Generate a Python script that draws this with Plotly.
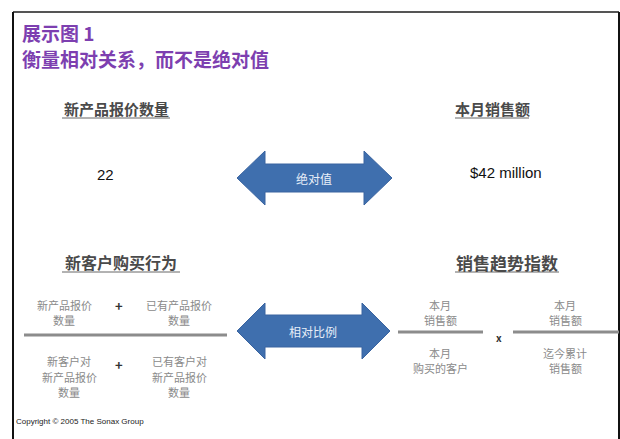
import plotly.graph_objects as go

# ---- content ----
title_lines = ["展示图 1", "衡量相对关系，而不是绝对值"]
headings = ["新产品报价数量", "本月销售额", "新客户购买行为", "销售趋势指数"]
heading_pos = [(116, 108), (492, 108), (121, 262), (507, 262)]
heading_size = [15, 15, 16, 17]
values = ["22", "$42 million"]
value_pos = [(105, 174), (506, 172)]
arrow_labels = ["绝对值", "相对比例"]
left_num = [["新产品报价", "数量"], ["已有产品报价", "数量"]]
left_den = [["新客户对", "新产品报价", "数量"], ["已有客户对", "新产品报价", "数量"]]
right_num = [["本月", "销售额"], ["本月", "销售额"]]
right_den = [["本月", "购买的客户"], ["迄今累计", "销售额"]]
copyright_text = "Copyright © 2005 The Sonax Group"

W, H = 620, 439
CJK = "Noto Sans CJK SC"
SMALL = "#8a8a8a"
BLUE = "#3f6fae"
LINE_STEP = 15.5

fig = go.Figure()
fig.add_trace(go.Scatter(x=[0, W], y=[0, H], mode="markers", marker=dict(opacity=0), hoverinfo="skip", showlegend=False))

shapes = []
# frame
shapes.append(dict(type="line", x0=13, x1=619, y0=12, y1=12, line=dict(color="#555", width=2)))
shapes.append(dict(type="line", x0=13, x1=13, y0=12, y1=445, line=dict(color="#111", width=2)))
shapes.append(dict(type="line", x0=619, x1=619, y0=12, y1=445, line=dict(color="#111", width=2)))


def arrow(x0, x1, yc, hh, sh, hl):
    p = [(x0, yc), (x0 + hl, yc - hh), (x0 + hl, yc - sh), (x1 - hl, yc - sh), (x1 - hl, yc - hh),
         (x1, yc), (x1 - hl, yc + hh), (x1 - hl, yc + sh), (x0 + hl, yc + sh), (x0 + hl, yc + hh)]
    return "M" + " L".join(f"{a},{b}" for a, b in p) + " Z"


arrows = [(237, 392, 178, 27, 14, 28), (237, 390, 331, 28, 16, 28)]
for a in arrows:
    shapes.append(dict(type="path", path=arrow(*a), fillcolor=BLUE, line=dict(color="#3a64a0", width=1)))

# fraction lines
for x0, x1, y in [(24, 227, 335), (398, 483, 332), (513, 619, 332)]:
    shapes.append(dict(type="line", x0=x0, x1=x1, y0=y, y1=y, line=dict(color="#8c8c8c", width=3)))

annotations = []


def txt(x, y, s, size, color, anchor="center", bold=False, family=CJK):
    annotations.append(dict(x=x, y=y, text=(f"<b>{s}</b>" if bold else s), showarrow=False,
                            xanchor=anchor, yanchor="middle", align="center",
                            font=dict(family=family, size=size, color=color)))


def block(x, y_first, lines, size=11, color=SMALL):
    for i, s in enumerate(lines):
        txt(x, y_first + i * LINE_STEP, s, size, color)


# title
txt(20, 32.5, title_lines[0], 19, "#7d3fb0", anchor="left", bold=True)
txt(20, 58, title_lines[1], 19, "#7d3fb0", anchor="left", bold=True)

# headings with underline
hw = [108, 74, 118, 104]
for (x, y), s, w, fs in zip(heading_pos, headings, hw, heading_size):
    txt(x, y, s, fs, "#4a4a4a", bold=True)
    shapes.append(dict(type="line", x0=x - w / 2, x1=x + w / 2, y0=y + 10, y1=y + 10, line=dict(color="#666", width=1)))

# values
txt(value_pos[0][0], value_pos[0][1], values[0], 15, "#111", family="Liberation Sans Narrow, Liberation Sans")
txt(value_pos[1][0], value_pos[1][1], values[1], 15, "#111", family="Liberation Sans Narrow, Liberation Sans")

# arrow labels
txt(314, 178, arrow_labels[0], 12, "#e8eef8")
txt(313, 331, arrow_labels[1], 12, "#e8eef8")

# left fraction
block(64, 304.5, left_num[0])
block(179, 304.5, left_num[1])
txt(119, 305, "+", 13, "#333", bold=True)
block(69, 361, left_den[0])
block(179, 361, left_den[1])
txt(119, 364, "+", 13, "#333", bold=True)

# right fractions
block(440, 304.5, right_num[0])
block(440, 352.5, right_den[0])
block(565, 304.5, right_num[1])
block(565, 352.5, right_den[1])
txt(499, 337, "x", 10, "#333", bold=True)

# copyright
txt(14, 421, copyright_text, 8, "#222", anchor="left", family="Liberation Sans Narrow, Liberation Sans")

fig.update_layout(
    width=W, height=H, margin=dict(l=0, r=0, t=0, b=0),
    paper_bgcolor="white", plot_bgcolor="white",
    xaxis=dict(range=[0, W], visible=False, fixedrange=True),
    yaxis=dict(range=[H, 0], visible=False, fixedrange=True),
    shapes=shapes, annotations=annotations, showlegend=False,
)

fig.write_html("out.html", config={"displayModeBar": False},
               post_script="document.body.style.margin='0';document.body.style.overflow='hidden';")
